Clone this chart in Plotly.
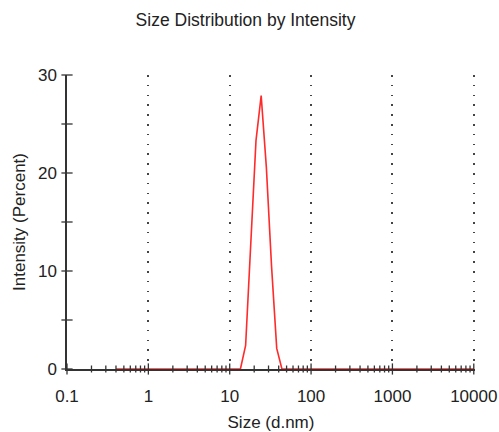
import plotly.graph_objects as go

# Zetasizer size classes (d.nm) and intensity distribution (%)
sizes = [0.4, 0.4632, 0.5365, 0.6213, 0.7195, 0.8332, 0.9649, 1.117, 1.294, 1.499,
         1.736, 2.010, 2.328, 2.696, 3.122, 3.615, 4.187, 4.849, 5.615, 6.503,
         7.531, 8.721, 10.10, 11.70, 13.54, 15.69, 18.17, 21.04, 24.36, 28.21,
         32.67, 37.84, 43.82, 50.75, 58.77, 68.06, 78.82, 91.28, 105.7, 122.4,
         141.8, 164.2, 190.1, 220.2, 255.0, 295.3, 342.0, 396.1, 458.7, 531.2,
         615.1, 712.4, 825.0, 955.4, 1106, 1281, 1484, 1718, 1990, 2305,
         2669, 3091, 3580, 4145, 4801, 5560, 6439, 7456, 8635, 10000]
intensity = [0] * 25 + [2.4, 13.2, 23.3, 27.9, 20.6, 10.5, 2.1] + [0] * 38

x_ticks = [0.1, 1, 10, 100, 1000, 10000]
x_ticktext = ["0.1", "1", "10", "100", "1000", "10000"]
y_ticks = [0, 10, 20, 30]

FONT = "Liberation Sans, Arial, sans-serif"
AXIS = "#333333"

# tick marks that cross the axis lines
minor_x = [d * k for d in x_ticks[:-1] for k in range(2, 10)]
y_marks = list(range(0, 31, 5))

fig = go.Figure()

fig.add_trace(go.Scatter(
    x=sizes, y=intensity, mode="lines",
    line=dict(color="#ff2a2a", width=1.6),
    cliponaxis=False, hoverinfo="x+y"))

fig.add_trace(go.Scatter(
    x=minor_x, y=[0] * len(minor_x), mode="markers",
    marker=dict(symbol="line-ns", size=5, line=dict(color=AXIS, width=1.3)),
    cliponaxis=False, hoverinfo="skip"))
fig.add_trace(go.Scatter(
    x=x_ticks, y=[0] * len(x_ticks), mode="markers",
    marker=dict(symbol="line-ns", size=8, line=dict(color=AXIS, width=1.3)),
    cliponaxis=False, hoverinfo="skip"))
fig.add_trace(go.Scatter(
    x=[0.1] * len(y_marks), y=y_marks, mode="markers",
    marker=dict(symbol="line-ew", size=8, line=dict(color=AXIS, width=1.3)),
    cliponaxis=False, hoverinfo="skip"))

fig.update_layout(
    width=499, height=432,
    margin=dict(l=67, r=24, t=75, b=63),
    paper_bgcolor="white", plot_bgcolor="white",
    showlegend=False,
    font=dict(family=FONT, size=17, color="#222222"),
    title=dict(text="Size Distribution by Intensity", x=0.492, xanchor="center",
               y=0.953, yanchor="middle", font=dict(size=17.5, color="#222222")),
)

# range runs a hair past 10000 so plotly keeps the last dotted gridline
fig.update_xaxes(
    type="log", range=[-1, 4.015], automargin=False, layer="below traces",
    tickvals=x_ticks, ticktext=x_ticktext, ticks="",
    ticklabelstandoff=11,
    showline=True, linecolor=AXIS, linewidth=1.5,
    showgrid=True, gridcolor="#444444", gridwidth=1.5, griddash="1.5px,8.3px",
    zeroline=False,
    title=dict(text="Size (d.nm)", standoff=16, font=dict(size=17)),
)
fig.update_yaxes(
    range=[0, 30], automargin=False, layer="below traces",
    tickvals=y_ticks, ticks="",
    ticklabelstandoff=5,
    showline=True, linecolor=AXIS, linewidth=1.5,
    showgrid=False, zeroline=False,
    title=dict(text="Intensity (Percent)", standoff=8, font=dict(size=17)),
)

# drop the default 8px body margin so the figure fills the window exactly
fig.write_html("out.html", config={"displayModeBar": False},
               post_script="document.body.style.margin = '0px';")
